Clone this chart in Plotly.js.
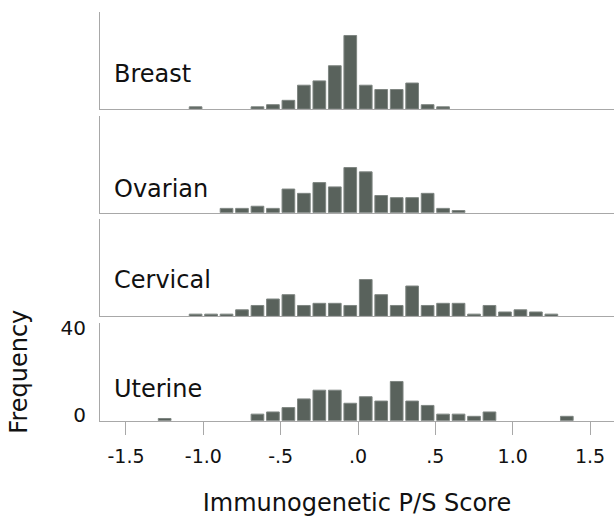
<!DOCTYPE html>
<html>
<head>
<meta charset="utf-8">
<script src="https://cdn.plot.ly/plotly-3.0.1.min.js"></script>
<style>
  html, body { margin: 0; padding: 0; background: #ffffff; }
  #chart { width: 614px; height: 518px; }
</style>
</head>
<body>
<div id="chart"></div>
<script>
// Bin centres (bin width 0.1) of the Immunogenetic P/S Score
const binCenters = [-1.25,-1.15,-1.05,-0.95,-0.85,-0.75,-0.65,-0.55,-0.45,-0.35,-0.25,-0.15,-0.05,
                    0.05,0.15,0.25,0.35,0.45,0.55,0.65,0.75,0.85,0.95,1.05,1.15,1.25,1.35];

// Frequencies per cancer type (same order as binCenters)
const breastCounts   = [0,0,1,0,0,0,1,2,4,11,13,20,34,11,9,9,12,2,1,0,0,0,0,0,0,0,0];
const ovarianCounts  = [0,0,0,0,2,2,3,2,11,9,14,12,21,19,8,7,7,9,2,1,0,0,0,0,0,0,0];
const cervicalCounts = [0,0,1,1,1,3,5,8,10,5,6,6,5,17,10,5,14,5,6,6,1,5,2,3,2,1,0];
const uterineCounts  = [1,0,0,0,0,0,3,4,6,10,14,14,8,11,9,18,9,7,3,3,2,4,0,0,0,0,2];

const panelNames = ["Breast", "Ovarian", "Cervical", "Uterine"];
const panelCounts = [breastCounts, ovarianCounts, cervicalCounts, uterineCounts];

const xTickVals = [-1.5, -1.0, -0.5, 0.0, 0.5, 1.0, 1.5];
const xTickText = ["-1.5", "-1.0", "-.5", ".0", ".5", "1.0", "1.5"];
const yTickVals = [0, 40];
const yTickText = ["0", "40"];

const FONT = "DejaVu Sans, Noto Sans, sans-serif";
const LINE = "#a8a8a8";
const BAR = "#59625c";
const BAR_EDGE = "#7f8682";
const XRANGE = [-1.668, 1.655];
const YRANGE = [0, 45];

// panel vertical domains (top to bottom)
const domains = [
  [0.7896, 0.9774],
  [0.5894, 0.7761],
  [0.3894, 0.5772],
  [0.1879, 0.3770]
];
const labelY = [16.3, 10.9, 16.6, 14.6];

const traces = panelCounts.map((counts, i) => ({
  type: "bar",
  x: binCenters,
  y: counts.map(v => v > 0 ? v : null),
  xaxis: i === 0 ? "x" : "x" + (i + 1),
  yaxis: i === 0 ? "y" : "y" + (i + 1),
  marker: { color: BAR, line: { color: BAR_EDGE, width: 1 } },
  hoverinfo: "skip"
}));

const layout = {
  width: 614,
  height: 518,
  margin: { l: 100, r: 0, t: 0, b: 0 },
  paper_bgcolor: "#ffffff",
  plot_bgcolor: "#ffffff",
  showlegend: false,
  bargap: 0.18,
  font: { family: FONT, color: "#111111" },
  annotations: []
};

for (let i = 0; i < 4; i++) {
  const xName = i === 0 ? "xaxis" : "xaxis" + (i + 1);
  const yName = i === 0 ? "yaxis" : "yaxis" + (i + 1);
  const yRef = i === 0 ? "y" : "y" + (i + 1);
  const xRef = i === 0 ? "x" : "x" + (i + 1);
  const isBottom = i === 3;
  layout[xName] = {
    domain: [0, 1],
    anchor: yRef,
    range: XRANGE,
    showline: true,
    linecolor: LINE,
    linewidth: 1,
    showgrid: false,
    zeroline: false,
    ticks: isBottom ? "outside" : "",
    ticklen: 13,
    tickwidth: 1,
    tickcolor: LINE,
    showticklabels: isBottom,
    tickmode: "array",
    tickvals: xTickVals,
    ticktext: xTickText,
    tickfont: { family: FONT, size: 19, color: "#111111" },
    ticklabelstandoff: 6
  };
  if (isBottom) {
    layout[xName].title = {
      text: "Immunogenetic P/S Score",
      font: { family: FONT, size: 24, color: "#111111" },
      standoff: 27
    };
  }
  layout[yName] = {
    domain: domains[i],
    anchor: xRef,
    range: YRANGE,
    showline: true,
    linecolor: LINE,
    linewidth: 1,
    showgrid: false,
    zeroline: false,
    ticks: "",
    showticklabels: isBottom,
    tickmode: "array",
    tickvals: yTickVals,
    ticktext: yTickText,
    tickfont: { family: FONT, size: 20, color: "#111111" },
    ticklabelstandoff: 9,
    ticklabelshift: -6
  };
  if (isBottom) {
    layout[yName].title = {
      text: "Frequency",
      font: { family: FONT, size: 24, color: "#111111" },
      standoff: 26
    };
  }
  layout.annotations.push({
    text: panelNames[i],
    xref: xRef,
    yref: yRef,
    x: -1.59,
    y: labelY[i],
    xanchor: "left",
    yanchor: "middle",
    showarrow: false,
    font: { family: FONT, size: 24, color: "#111111" }
  });
}

Plotly.newPlot("chart", traces, layout, { displayModeBar: false, staticPlot: true });
</script>
</body>
</html>
